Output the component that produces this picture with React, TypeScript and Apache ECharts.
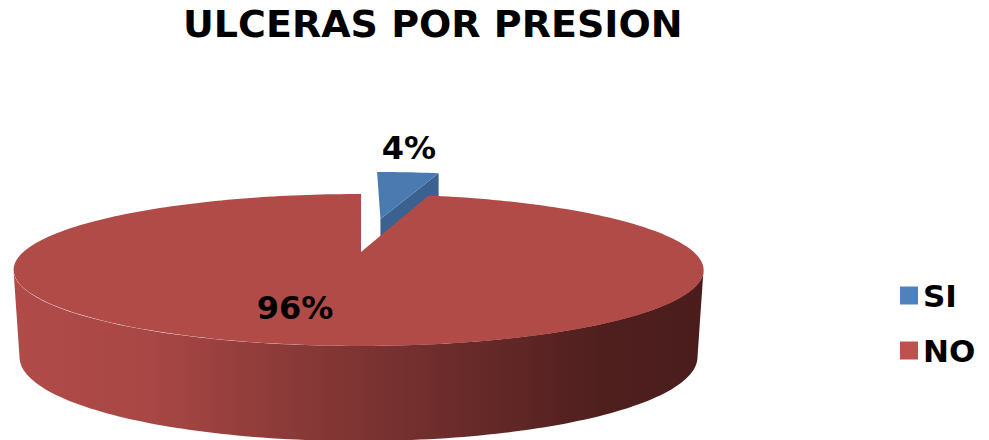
import React, { useEffect, useRef } from "react";
import * as echarts from "echarts";

const categories = ["SI", "NO"];
const shares = [4, 96];
const legendColors = ["#4F81BD", "#C0504D"];
const chartTitle = "ULCERAS POR PRESION";

const FONT = '"DejaVu Sans", Verdana, sans-serif';
const TOTAL = shares.reduce((a, b) => a + b, 0);

// Perspective mapping of the unit disc on to the tilted pie's top face.
const CX = 358.5;
const APEX_X = 2.5;
const APEX_Y = 252;
const TILT_Y = -12.06;
const PERSPECTIVE = 0.2368;
const SPREAD = 335.2;
const project = (u: number, v: number): number[] => {
  const w = 1 + PERSPECTIVE * v;
  return [CX + (SPREAD * u) / w + APEX_X * (1 - u * u), (APEX_Y + TILT_Y * v) / w];
};

// Points of one slice, clockwise from 12 o'clock, optionally pulled outwards.
const slicePoints = (from: number, to: number, pull: number): number[][] => {
  const mid = (from + to) / 2;
  const du = pull * Math.sin(mid);
  const dv = pull * Math.cos(mid);
  const pts = [project(du, dv)];
  const steps = Math.max(4, Math.ceil((to - from) * 40));
  for (let i = 0; i <= steps; i++) {
    const t = from + ((to - from) * i) / steps;
    pts.push(project(du + Math.sin(t), dv + Math.cos(t)));
  }
  return pts;
};

const toAngle = (value: number) => (value / TOTAL) * Math.PI * 2;

// Front wall: lower half of the rim, between the top and the bottom outline.
const wallPoints = (): number[][] => {
  const pts: number[][] = [];
  const n = 120;
  for (let i = 0; i <= n; i++) {
    const a = Math.PI - (Math.PI * i) / n;
    pts.push([CX + 345 * Math.cos(a), 270 + 76 * Math.sin(a)]);
  }
  for (let i = n; i >= 0; i--) {
    const a = Math.PI - (Math.PI * i) / n;
    pts.push([CX + 339 * Math.cos(a), 357 + 84 * Math.sin(a)]);
  }
  return pts;
};

const renderSi = (_: any, api: any) => {
  const sweep = toAngle(api.value(0));
  const pull = 0.52;
  const top = slicePoints(0, sweep, pull);
  const apex = top[0];
  const outer = top[top.length - 1];
  const depth = 40;
  return {
    type: "group",
    children: [
      {
        type: "polygon",
        shape: {
          points: [apex, outer, [outer[0], outer[1] + depth], [apex[0], apex[1] + depth]],
        },
        style: { fill: "#3B6190" },
      },
      { type: "polygon", shape: { points: top }, style: { fill: "#4A7AB0" } },
      {
        type: "text",
        x: 409,
        y: 148,
        style: {
          text: `${api.value(0)}%`,
          fontFamily: FONT,
          fontWeight: "bold",
          fontSize: 32,
          fill: "#000",
          align: "center",
          verticalAlign: "middle",
        },
      },
    ],
  };
};

const renderNo = (_: any, api: any) => {
  const start = toAngle(TOTAL - api.value(0));
  const top = slicePoints(start, Math.PI * 2, 0);
  return {
    type: "group",
    children: [
      {
        type: "polygon",
        shape: { points: wallPoints() },
        style: {
          fill: new echarts.graphic.LinearGradient(0, 0, 1, 0, [
            { offset: 0, color: "#B04B48" },
            { offset: 0.2, color: "#A84745" },
            { offset: 0.4, color: "#8A3A38" },
            { offset: 0.6, color: "#702E2D" },
            { offset: 0.85, color: "#4F1F1E" },
            { offset: 1, color: "#4A1D1C" },
          ]),
        },
      },
      { type: "polygon", shape: { points: top }, style: { fill: "#B04B48" } },
      {
        type: "text",
        x: 295,
        y: 308,
        style: {
          text: `${api.value(0)}%`,
          fontFamily: FONT,
          fontWeight: "bold",
          fontSize: 32,
          fill: "#000",
          align: "center",
          verticalAlign: "middle",
        },
      },
    ],
  };
};

export default function App() {
  const ref = useRef<HTMLDivElement>(null);
  useEffect(() => {
    document.body.style.margin = "0";
    const chart = echarts.init(ref.current!, undefined, { renderer: "svg" });
    chart.setOption({
      animation: false,
      backgroundColor: "#fff",
      color: legendColors,
      title: {
        text: chartTitle,
        left: 183,
        top: 5,
        padding: 0,
        textStyle: { fontFamily: FONT, fontWeight: "bold", fontSize: 38, color: "#000" },
      },
      legend: {
        orient: "vertical",
        left: 900,
        top: 280,
        padding: 0,
        itemWidth: 18,
        itemHeight: 18,
        itemGap: 24,
        icon: "rect",
        data: categories,
        textStyle: {
          fontFamily: FONT,
          fontWeight: "bold",
          fontSize: 31,
          lineHeight: 31,
          color: "#000",
        },
      },
      series: [
        {
          type: "custom",
          name: categories[0],
          coordinateSystem: "none",
          silent: true,
          renderItem: renderSi,
          data: [[shares[0]]],
        },
        {
          type: "custom",
          name: categories[1],
          coordinateSystem: "none",
          silent: true,
          renderItem: renderNo,
          data: [[shares[1]]],
        },
      ],
    });
    return () => chart.dispose();
  }, []);
  return <div ref={ref} style={{ width: 989, height: 440 }} />;
}
